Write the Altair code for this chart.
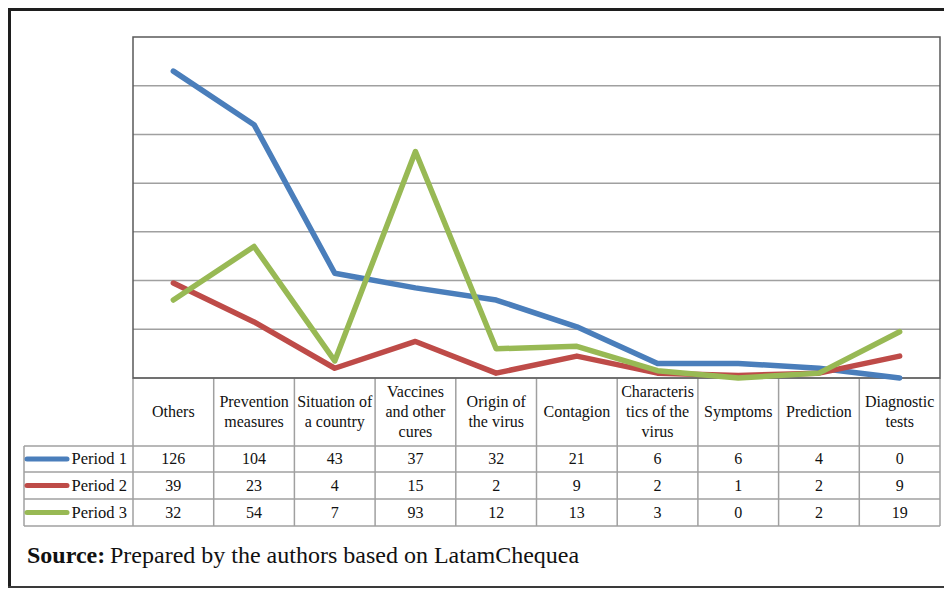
import altair as alt
import pandas as pd

# ---------------- data ----------------
categories = ["Others", "Prevention measures", "Situation of a country",
              "Vaccines and other cures", "Origin of the virus", "Contagion",
              "Characteristics of the virus", "Symptoms", "Prediction",
              "Diagnostic tests"]
header_lines = [["Others"], ["Prevention", "measures"], ["Situation of", "a country"],
                ["Vaccines", "and other", "cures"], ["Origin of", "the virus"],
                ["Contagion"], ["Characteris", "tics of the", "virus"],
                ["Symptoms"], ["Prediction"], ["Diagnostic", "tests"]]
periods = ["Period 1", "Period 2", "Period 3"]
period1 = [126, 104, 43, 37, 32, 21, 6, 6, 4, 0]
period2 = [39, 23, 4, 15, 2, 9, 2, 1, 2, 9]
period3 = [32, 54, 7, 93, 12, 13, 3, 0, 2, 19]
colors = ["#4A7EBB", "#BE4B48", "#98B954"]
grid_values = [20, 40, 60, 80, 100, 120]
source_bold = "Source:"
source_text = "Prepared by the authors based on LatamChequea"

# ---------------- geometry (page pixels) ----------------
W, H = 936, 580
OFF = 8
PL, PR, PT, PB = 133, 940, 37, 378
CW = (PR - PL) / 10
YMAX = 140
PXU = (PB - PT) / YMAX
LAB_L = 24
ROW_LINES = [446, 472, 499, 526]
LINE_H = 20
FONT = "Liberation Serif"


def xu(px):
    return (px - PL - CW / 2) / CW


def yu(py):
    return (PB - py) / PXU


xscale = alt.Scale(domain=[xu(OFF), xu(OFF + W)], nice=False, zero=False)
yscale = alt.Scale(domain=[yu(OFF + H), yu(OFF)], nice=False, zero=False)
X = lambda f: alt.X(f, type="quantitative", scale=xscale, axis=None)
Y = lambda f: alt.Y(f, type="quantitative", scale=yscale, axis=None)
cscale = alt.Scale(domain=periods, range=colors)

# ---------------- tables ----------------
series = [period1, period2, period3]
lines_df = pd.DataFrame([
    {"i": i, "v": vals[i], "period": periods[k]}
    for k, vals in enumerate(series) for i in range(len(categories))
])

grid_df = pd.DataFrame({"y": grid_values, "x": -0.5, "x2": 9.5})
plot_df = pd.DataFrame({"x": [-0.5], "x2": [9.5], "y": [0], "y2": [YMAX]})

rules = [(xu(PL), xu(PR), 0.0, 0.0)]
for yb in ROW_LINES:
    rules.append((xu(LAB_L), xu(PR), yu(yb), yu(yb)))
for k in range(11):
    rules.append((k - 0.5, k - 0.5, 0.0, yu(ROW_LINES[-1])))
rules.append((xu(LAB_L), xu(LAB_L), yu(ROW_LINES[0]), yu(ROW_LINES[-1])))
rules_df = pd.DataFrame(rules, columns=["x", "x2", "y", "y2"])

head_center = (PB + ROW_LINES[0]) / 2
head_rows = []
for i, parts in enumerate(header_lines):
    n = len(parts)
    for j, part in enumerate(parts):
        head_rows.append({"x": i, "y": yu(head_center + (j - (n - 1) / 2) * LINE_H), "t": part})
head_df = pd.DataFrame(head_rows)

row_centers = [yu((ROW_LINES[r] + ROW_LINES[r + 1]) / 2) for r in range(3)]
num_df = pd.DataFrame([
    {"x": i, "y": row_centers[k], "t": str(vals[i])}
    for k, vals in enumerate(series) for i in range(10)
])
lab_df = pd.DataFrame({"x": xu(127), "y": row_centers, "t": periods})
sw_df = pd.DataFrame({"x": xu(27), "x2": xu(67), "y": row_centers, "period": periods})

# ---------------- layers ----------------
grid = alt.Chart(grid_df).mark_rule(color="#a0a0a0", strokeWidth=1.5).encode(
    x=X("x"), x2="x2", y=Y("y"))
plot_border = alt.Chart(plot_df).mark_rect(fill=None, stroke="#595959", strokeWidth=1.5).encode(
    x=X("x"), x2="x2", y=Y("y"), y2="y2")
table_rules = alt.Chart(rules_df).mark_rule(color="#a0a0a0", strokeWidth=1.5).encode(
    x=X("x"), x2="x2", y=Y("y"), y2="y2")
lines = alt.Chart(lines_df).mark_line(strokeWidth=5.5, strokeCap="round", strokeJoin="round").encode(
    x=X("i"), y=Y("v"),
    color=alt.Color("period:N", scale=cscale, legend=None),
    order="i:Q")
head = alt.Chart(head_df).mark_text(font=FONT, fontSize=16, baseline="middle",
                                    align="center", color="#111").encode(
    x=X("x"), y=Y("y"), text="t:N")
nums = alt.Chart(num_df).mark_text(font=FONT, fontSize=16, baseline="middle",
                                   align="center", color="#111").encode(
    x=X("x"), y=Y("y"), text="t:N")
labs = alt.Chart(lab_df).mark_text(font=FONT, fontSize=16.5, baseline="middle",
                                   align="right", color="#111").encode(
    x=X("x"), y=Y("y"), text="t:N")
swatch = alt.Chart(sw_df).mark_rule(strokeWidth=5, strokeCap="round").encode(
    x=X("x"), x2="x2", y=Y("y"),
    color=alt.Color("period:N", scale=cscale, legend=None))

src1 = alt.Chart(pd.DataFrame({"t": [source_bold]})).mark_text(
    font=FONT, fontSize=24, fontWeight="bold", align="left", baseline="alphabetic",
    color="#111").encode(x=alt.value(27 - OFF), y=alt.value(563 - OFF), text="t:N")
src2 = alt.Chart(pd.DataFrame({"t": [source_text]})).mark_text(
    font=FONT, fontSize=24, align="left", baseline="alphabetic",
    color="#111").encode(x=alt.value(110 - OFF), y=alt.value(563 - OFF), text="t:N")

frame_left = alt.Chart(pd.DataFrame({"a": [0]})).mark_rule(color="#1e1e1e", strokeWidth=3).encode(
    x=alt.value(1.5), y=alt.value(0), y2=alt.value(H))
frame_top = alt.Chart(pd.DataFrame({"a": [0]})).mark_rule(color="#1e1e1e", strokeWidth=3).encode(
    x=alt.value(0), x2=alt.value(W), y=alt.value(1.5))
frame_bottom = alt.Chart(pd.DataFrame({"a": [0]})).mark_rule(color="#3a3a3a", strokeWidth=2).encode(
    x=alt.value(0), x2=alt.value(W), y=alt.value(H - 1))

chart = alt.layer(
    grid, table_rules, plot_border, lines, head, nums, labs, swatch,
    src1, src2, frame_left, frame_top, frame_bottom
).properties(
    width=W, height=H, padding=0, autosize="none"
).configure_view(stroke=None).configure(background="white")

chart.save("out.html", embed_options={"renderer": "svg", "actions": False})
